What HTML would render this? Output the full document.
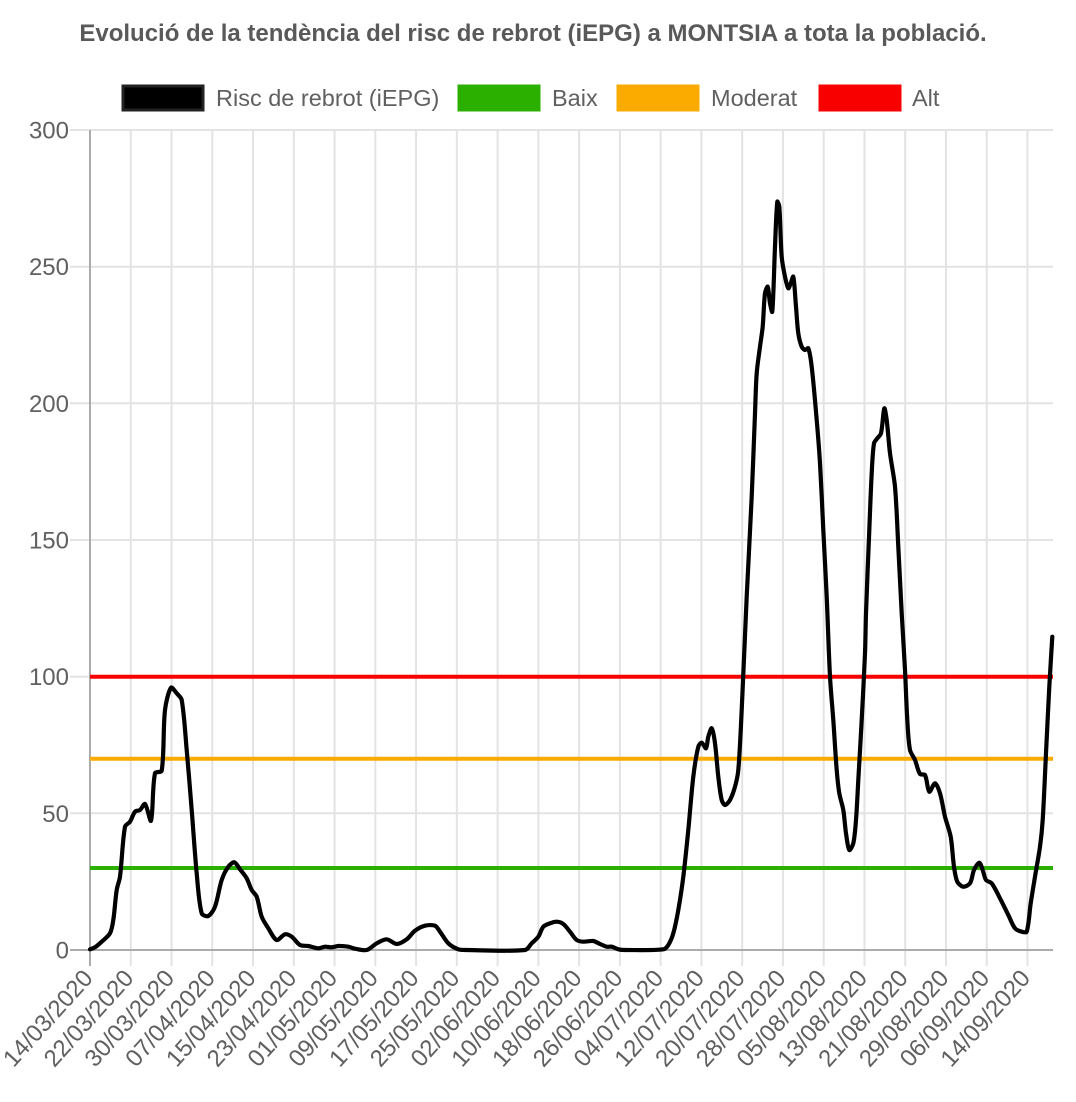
<!DOCTYPE html>
<html>
<head>
<meta charset="utf-8">
<style>
  html, body { margin: 0; padding: 0; background: #ffffff; }
  body { width: 1076px; height: 1102px; overflow: hidden; }
  svg { display: block; font-family: "Liberation Sans", Arial, Helvetica, sans-serif; }
</style>
</head>
<body>
<svg width="1076" height="1102" viewBox="0 0 1076 1102" xmlns="http://www.w3.org/2000/svg">
  <rect x="0" y="0" width="1076" height="1102" fill="#ffffff"/>

  <!-- Title -->
  <text x="533" y="41" text-anchor="middle" font-size="24" font-weight="bold" fill="#595959">Evolució de la tendència del risc de rebrot (iEPG) a MONTSIA a tota la població.</text>

  <!-- Legend -->
  <rect x="123" y="86" width="80" height="24" fill="#000000" stroke="#222" stroke-width="3"/>
  <text x="216" y="106" font-size="23.5" fill="#606060">Risc de rebrot (iEPG)</text>
  <rect x="459" y="86" width="80" height="24" fill="#2bb000" stroke="#2bb000" stroke-width="3"/>
  <text x="552" y="106" font-size="23.5" fill="#606060">Baix</text>
  <rect x="618" y="86" width="80" height="24" fill="#fbab00" stroke="#fbab00" stroke-width="3"/>
  <text x="711" y="106" font-size="23.5" fill="#606060">Moderat</text>
  <rect x="820" y="86" width="80" height="24" fill="#f80000" stroke="#f80000" stroke-width="3"/>
  <text x="912" y="106" font-size="23.5" fill="#606060">Alt</text>

  <!-- Horizontal gridlines -->
  <g stroke="#e3e3e3" stroke-width="2">
    <line x1="70" y1="130" x2="1053" y2="130"/>
    <line x1="70" y1="266.7" x2="1053" y2="266.7"/>
    <line x1="70" y1="403.3" x2="1053" y2="403.3"/>
    <line x1="70" y1="540" x2="1053" y2="540"/>
    <line x1="70" y1="676.7" x2="1053" y2="676.7"/>
    <line x1="70" y1="813.3" x2="1053" y2="813.3"/>
  </g>

  <!-- Vertical gridlines -->
  <g stroke="#e3e3e3" stroke-width="2">
    <line x1="130.76" y1="130" x2="130.76" y2="966"/>
    <line x1="171.52" y1="130" x2="171.52" y2="966"/>
    <line x1="212.28" y1="130" x2="212.28" y2="966"/>
    <line x1="253.04" y1="130" x2="253.04" y2="966"/>
    <line x1="293.8" y1="130" x2="293.8" y2="966"/>
    <line x1="334.56" y1="130" x2="334.56" y2="966"/>
    <line x1="375.32" y1="130" x2="375.32" y2="966"/>
    <line x1="416.08" y1="130" x2="416.08" y2="966"/>
    <line x1="456.84" y1="130" x2="456.84" y2="966"/>
    <line x1="497.6" y1="130" x2="497.6" y2="966"/>
    <line x1="538.36" y1="130" x2="538.36" y2="966"/>
    <line x1="579.12" y1="130" x2="579.12" y2="966"/>
    <line x1="619.88" y1="130" x2="619.88" y2="966"/>
    <line x1="660.64" y1="130" x2="660.64" y2="966"/>
    <line x1="701.4" y1="130" x2="701.4" y2="966"/>
    <line x1="742.16" y1="130" x2="742.16" y2="966"/>
    <line x1="782.92" y1="130" x2="782.92" y2="966"/>
    <line x1="823.68" y1="130" x2="823.68" y2="966"/>
    <line x1="864.44" y1="130" x2="864.44" y2="966"/>
    <line x1="905.2" y1="130" x2="905.2" y2="966"/>
    <line x1="945.96" y1="130" x2="945.96" y2="966"/>
    <line x1="986.72" y1="130" x2="986.72" y2="966"/>
    <line x1="1027.48" y1="130" x2="1027.48" y2="966"/>
  </g>

  <!-- Axes -->
  <g stroke="#ababab" stroke-width="2">
    <line x1="90" y1="130" x2="90" y2="966"/>
    <line x1="70" y1="950" x2="1053" y2="950"/>
  </g>

  <!-- Y tick labels -->
  <g font-size="24" fill="#606060" text-anchor="end">
    <text x="69" y="138.5">300</text>
    <text x="69" y="275.2">250</text>
    <text x="69" y="411.8">200</text>
    <text x="69" y="548.5">150</text>
    <text x="69" y="685.2">100</text>
    <text x="69" y="821.8">50</text>
    <text x="69" y="958.5">0</text>
  </g>

  <!-- X tick labels -->
  <g font-size="24" fill="#606060" text-anchor="end">
    <text transform="translate(94,979) rotate(-48)">14/03/2020</text>
    <text transform="translate(134.76,979) rotate(-48)">22/03/2020</text>
    <text transform="translate(175.52,979) rotate(-48)">30/03/2020</text>
    <text transform="translate(216.28,979) rotate(-48)">07/04/2020</text>
    <text transform="translate(257.04,979) rotate(-48)">15/04/2020</text>
    <text transform="translate(297.8,979) rotate(-48)">23/04/2020</text>
    <text transform="translate(338.56,979) rotate(-48)">01/05/2020</text>
    <text transform="translate(379.32,979) rotate(-48)">09/05/2020</text>
    <text transform="translate(420.08,979) rotate(-48)">17/05/2020</text>
    <text transform="translate(460.84,979) rotate(-48)">25/05/2020</text>
    <text transform="translate(501.6,979) rotate(-48)">02/06/2020</text>
    <text transform="translate(542.36,979) rotate(-48)">10/06/2020</text>
    <text transform="translate(583.12,979) rotate(-48)">18/06/2020</text>
    <text transform="translate(623.88,979) rotate(-48)">26/06/2020</text>
    <text transform="translate(664.64,979) rotate(-48)">04/07/2020</text>
    <text transform="translate(705.4,979) rotate(-48)">12/07/2020</text>
    <text transform="translate(746.16,979) rotate(-48)">20/07/2020</text>
    <text transform="translate(786.92,979) rotate(-48)">28/07/2020</text>
    <text transform="translate(827.68,979) rotate(-48)">05/08/2020</text>
    <text transform="translate(868.44,979) rotate(-48)">13/08/2020</text>
    <text transform="translate(909.2,979) rotate(-48)">21/08/2020</text>
    <text transform="translate(949.96,979) rotate(-48)">29/08/2020</text>
    <text transform="translate(990.72,979) rotate(-48)">06/09/2020</text>
    <text transform="translate(1031.48,979) rotate(-48)">14/09/2020</text>
  </g>

  <!-- Threshold lines -->
  <line x1="90" y1="868" x2="1053" y2="868" stroke="#2bb000" stroke-width="4"/>
  <line x1="90" y1="758.7" x2="1053" y2="758.7" stroke="#fbab00" stroke-width="4"/>
  <line x1="90" y1="676.7" x2="1053" y2="676.7" stroke="#f80000" stroke-width="4"/>

  <!-- Risc de rebrot curve -->
  <polyline id="curve" fill="none" stroke="#000000" stroke-width="4.2" stroke-linejoin="round" stroke-linecap="round" points="
    90,949.3 95,947.3 101.7,941.7 110,933.3 113.3,920 116.7,890 120,876.7 125,826.7 130,821.7 135,811.7
    140,810 145,804 151,820.7 155,773.3 161.7,770.7 165,710 171,687.7 176.7,693.3 181.7,700 186.7,750
    191.7,810 196.7,873.3 201.7,913.3 208.3,916 215,906.7 221.7,880 228.3,866.7 234.3,862.3 240,869.3
    246.7,878.3 251.7,890 256.7,896.7 261.7,916.7 268.3,928.3 276.7,940 285,934.3 291.7,936.7 300,945
    308.3,946 318.3,948.3 325,946.7 331.7,947.3 338.3,946 348.3,946.7 355,948.7 366.7,950 376.7,943.3
    386.7,939.3 396.7,944 406.7,939.3 415,930.7 425,925.7 435,925.7 440,931.7 448.3,943.3 458.3,949.3
    466,950 525,950 531.7,943.3 538.3,936.7 543.3,926.7 550,923.3 556.7,921.7 563.3,924 570,931.7
    576.7,940 583.3,941.7 593.3,941 600,944 606.7,946.7 611.7,946.7 618.3,949.3 625,950 663.3,949.3
    668.3,945 673.3,933.3 678.3,910 683.3,876.7 688.3,830 693.3,776.7 698.3,746.7 701.7,742.7 706,748.3
    708.3,736.7 711.7,728.3 715,743.3 718.3,776.7 721.7,800 725,805 730,800 735,786.7 738.3,770
    741.7,710 746.7,596.7 751.7,496.7 755,413.3 756.7,373.3 760,346.7 762.7,326.7 765,293.3 767.7,286.7
    770,303.3 772.3,311.7 775,246.7 777.3,201.7 779.3,206.7 781.7,256.7 785,276.7 788.3,288.3 790.7,283.3
    793.3,276.7 796,306.7 798.3,333.3 801.7,346.7 805,350 808.3,348.3 811.7,366.7 816.7,420 820,463.3
    823.3,530 826.7,596.7 830,676.7 833.3,720 836.7,770 839.3,793.3 843.3,810 846,833.3 849.3,850
    853.3,843.3 856,820 858.3,780 861.7,720 865,653.3 866,613.3 869.3,530 871.7,473.3 874,443.3
    877.3,438.3 881,433.3 884.3,408.3 886.7,420 890,453.3 895,486.7 898.3,546.7 901.7,613.3 905,670
    907.3,720 910,750 915,760 920,774 925,775 929.3,791.7 935,783.3 940,793.3 945,816.7 950.7,836.7
    954,866.7 957.3,881.7 963.3,886.7 970,883.3 974,870 979.3,862.7 982.7,870 986,880 991.7,883.3
    1000,898.3 1008.3,915 1015,928.3 1021.7,931.7 1026.7,931.7 1030.7,903.3 1035,876.7 1040,846.7
    1042.7,820 1046,753.3 1049.3,686.7 1052.3,636.7"/>
</svg>
<script>
(function(){
  try {
    var pl = document.getElementById('curve');
    var raw = pl.getAttribute('points').trim().split(/\s+/);
    var p = raw.map(function(s){ var a = s.split(','); return [parseFloat(a[0]), parseFloat(a[1])]; });
    var t = 0.3, n = p.length;
    var cps = [];
    for (var i = 0; i < n; i++) {
      var prev = p[Math.max(0, i-1)], cur = p[i], next = p[Math.min(n-1, i+1)];
      var d01 = Math.hypot(cur[0]-prev[0], cur[1]-prev[1]);
      var d12 = Math.hypot(next[0]-cur[0], next[1]-cur[1]);
      var s01 = (d01 + d12) ? d01/(d01+d12) : 0;
      var s12 = (d01 + d12) ? d12/(d01+d12) : 0;
      var fa = t*s01, fb = t*s12;
      cps.push({
        pr: [cur[0] - fa*(next[0]-prev[0]), cur[1] - fa*(next[1]-prev[1])],
        nx: [cur[0] + fb*(next[0]-prev[0]), cur[1] + fb*(next[1]-prev[1])]
      });
    }
    var d = 'M' + p[0][0] + ',' + p[0][1];
    for (var j = 1; j < n; j++) {
      var c1 = cps[j-1].nx, c2 = cps[j].pr;
      d += ' C' + c1[0].toFixed(2) + ',' + c1[1].toFixed(2) + ' ' + c2[0].toFixed(2) + ',' + c2[1].toFixed(2) + ' ' + p[j][0] + ',' + p[j][1];
    }
    var path = document.createElementNS('http://www.w3.org/2000/svg', 'path');
    path.setAttribute('d', d);
    path.setAttribute('fill', 'none');
    path.setAttribute('stroke', '#000000');
    path.setAttribute('stroke-width', '4.2');
    path.setAttribute('stroke-linejoin', 'round');
    path.setAttribute('stroke-linecap', 'round');
    pl.parentNode.replaceChild(path, pl);
  } catch (e) {}
})();
</script>
</body>
</html>
